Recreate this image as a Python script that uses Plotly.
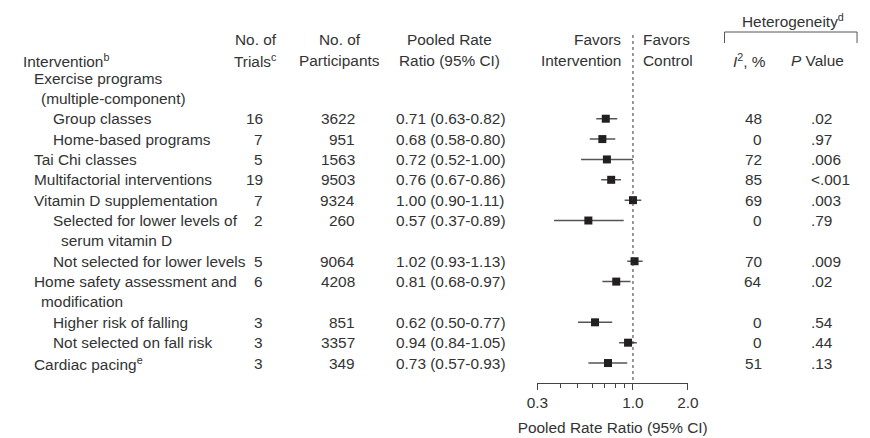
import math
import plotly.graph_objects as go

# ---------------- data ----------------
labels = [
    "Exercise programs", "(multiple-component)", "Group classes", "Home-based programs",
    "Tai Chi classes", "Multifactorial interventions", "Vitamin D supplementation",
    "Selected for lower levels of", "serum vitamin D", "Not selected for lower levels",
    "Home safety assessment and", "modification", "Higher risk of falling",
    "Not selected on fall risk", "Cardiac pacing<sup>e</sup>",
]
row_level = [0, 0.5, 1, 1, 0, 0, 0, 1, 1.5, 1, 0, 0.5, 1, 1, 0]
trials = [None, None, 16, 7, 5, 19, 7, 2, None, 5, 6, None, 3, 3, 3]
participants = [None, None, 3622, 951, 1563, 9503, 9324, 260, None, 9064, 4208, None, 851, 3357, 349]
rate_ratio = [None, None, 0.71, 0.68, 0.72, 0.76, 1.00, 0.57, None, 1.02, 0.81, None, 0.62, 0.94, 0.73]
ci_low = [None, None, 0.63, 0.58, 0.52, 0.67, 0.90, 0.37, None, 0.93, 0.68, None, 0.50, 0.84, 0.57]
ci_high = [None, None, 0.82, 0.80, 1.00, 0.86, 1.11, 0.89, None, 1.13, 0.97, None, 0.77, 1.05, 0.93]
i2 = [None, None, 48, 0, 72, 85, 69, 0, None, 70, 64, None, 0, 0, 51]
p_value = [None, None, ".02", ".97", ".006", "<.001", ".003", ".79", None, ".009", ".02", None, ".54", ".44", ".13"]
axis_ticks = [0.3, 1.0, 2.0]
axis_ticktext = ["0.3", "1.0", "2.0"]
minor_ticks = [0.4, 0.5, 0.6, 0.7, 0.8, 0.9]

# ---------------- layout helpers ----------------
OFF = 8                      # page body margin offset
W, H = 870 - OFF, 438 - OFF
ROW0_PX, ROW_STEP = 78.0 - OFF, 20.36
y_top = -ROW0_PX / ROW_STEP
y_bot = (H - ROW0_PX) / ROW_STEP
AXIS_ROW = 14.98

def px(x):
    return (x - OFF) / W

def ry(ypx):
    return (ypx - OFF - ROW0_PX) / ROW_STEP

FONT = "Liberation Sans, Arial, Helvetica, sans-serif"
TXT = "#333333"
FS = 15.4

rows = list(range(len(labels)))

fig = go.Figure()

pts = [(r, rr, lo, hi) for r, rr, lo, hi in zip(rows, rate_ratio, ci_low, ci_high) if rr is not None]
fig.add_trace(go.Scatter(
    x=[p[1] for p in pts], y=[p[0] for p in pts], mode="markers",
    marker=dict(symbol="square", size=8, color="#231f20"),
    error_x=dict(type="data", symmetric=False,
                 array=[p[3] - p[1] for p in pts],
                 arrayminus=[p[1] - p[2] for p in pts],
                 width=0, thickness=1.5, color="#555555"),
    showlegend=False, hoverinfo="skip", cliponaxis=False,
))

ann = []
def add(text, x, y, anchor="left", size=FS):
    ann.append(dict(text=text, x=px(x), y=y, xref="paper", yref="y",
                    xanchor=anchor, yanchor="middle", align=anchor, showarrow=False,
                    borderpad=0, font=dict(family=FONT, size=size, color=TXT)))

# headers
h1 = ry(39)
h2 = ry(60)
add("Intervention<sup>b</sup>", 11, h2)
add("No. of", 251, h1, "center")
add("Trials<sup>c</sup>", 251, h2, "center")
add("No. of", 337, h1, "center")
add("Participants", 337, h2, "center")
add("Pooled Rate", 450, h1, "center")
add("Ratio (95% CI)", 450, h2, "center")
add("Favors", 627, h1, "right")
add("Intervention", 627, h2, "right")
add("Favors", 647, h1, "left")
add("Control", 647, h2, "left")
add("Heterogeneity<sup>d</sup>", 802, ry(20), "center")
add("<i>I</i><sup>2</sup>, %", 758, h2, "center")
add("<i>P</i> Value", 827, h2, "center")

indent_px = {0: 22, 0.5: 30, 1: 42, 1.5: 50}
for r, lab, lev, t, n, rr, lo, hi, h, p in zip(rows, labels, row_level, trials, participants,
                                                rate_ratio, ci_low, ci_high, i2, p_value):
    add(lab, indent_px[lev], r)
    if t is not None:
        add(str(t), 259, r, "right")
        add(str(n), 354, r, "right")
        add(f"{rr:.2f} ({lo:.2f}-{hi:.2f})", 394, r, "left")
        add(str(h), 771, r, "right")
        add(p, 820, r, "left")

shapes = [
    dict(type="line", xref="x", yref="y", x0=1.0, x1=1.0,
         y0=ry(35), y1=AXIS_ROW,
         line=dict(color="#333", width=1, dash="dot")),
    dict(type="line", xref="paper", yref="y", x0=px(732), x1=px(868),
         y0=ry(32), y1=ry(32), line=dict(color="#555", width=1)),
    dict(type="line", xref="paper", yref="y", x0=px(732), x1=px(732),
         y0=ry(32), y1=ry(43), line=dict(color="#555", width=1)),
    dict(type="line", xref="paper", yref="y", x0=px(868), x1=px(868),
         y0=ry(32), y1=ry(43), line=dict(color="#555", width=1)),
]

axis_pos = (y_bot - AXIS_ROW) / (y_bot - y_top)

fig.update_layout(
    width=W, height=H, margin=dict(l=0, r=0, t=0, b=0),
    paper_bgcolor="white", plot_bgcolor="white",
    annotations=ann, shapes=shapes,
    xaxis=dict(type="log", range=[math.log10(0.3), math.log10(2.0)],
               domain=[px(540.0), px(694.5)], anchor="free", position=axis_pos,
               showline=True, linecolor="#444", linewidth=1,
               ticks="outside", ticklen=6, tickcolor="#444", tickwidth=1,
               tickvals=axis_ticks, ticktext=axis_ticktext,
               tickfont=dict(family=FONT, size=FS, color=TXT),
               minor=dict(tickvals=minor_ticks, ticks="outside", ticklen=4,
                          tickcolor="#444", tickwidth=1, showgrid=False),
               showgrid=False, zeroline=False,
               title=dict(text="Pooled Rate Ratio (95% CI)", standoff=11,
                          font=dict(family=FONT, size=FS, color=TXT))),
    yaxis=dict(range=[y_bot, y_top], domain=[0, 1], visible=False,
               showgrid=False, zeroline=False),
)

fig.write_html("out.html")
